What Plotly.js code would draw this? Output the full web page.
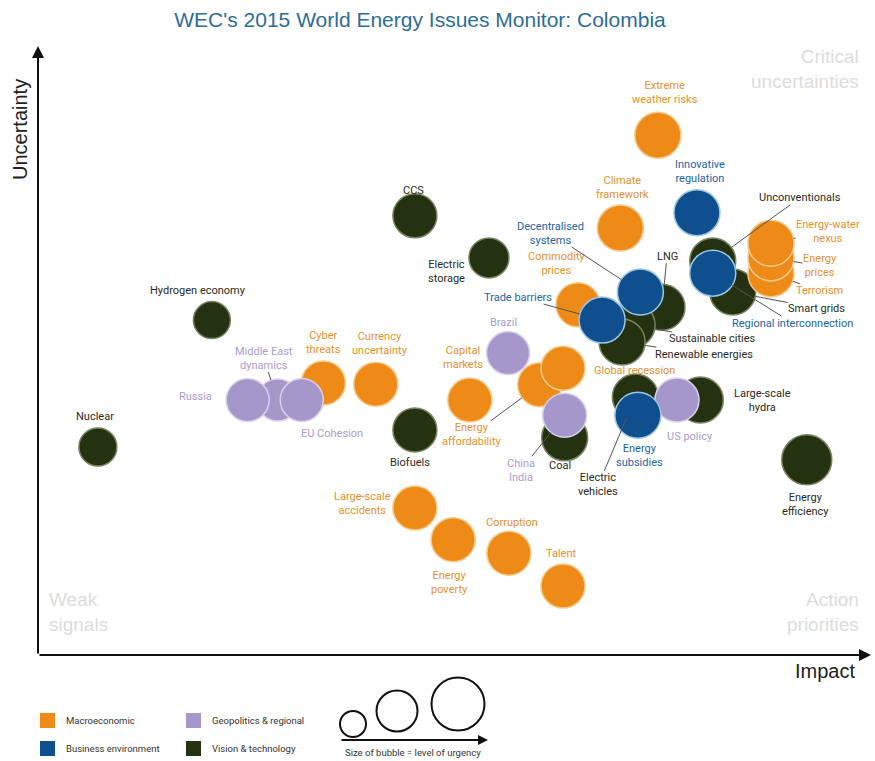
<!DOCTYPE html>
<html>
<head>
<meta charset="utf-8">
<script src="https://cdn.plot.ly/plotly-3.0.1.min.js"></script>
<style>html,body{margin:0;padding:0;background:#fff;}#chart{width:875px;height:761px;}</style>
</head>
<body>
<div id="chart"></div>
<script>
// ---- Data (impact = x, uncertainty = y, urgency = bubble size) ----
const macroNames = ["Extreme<br>weather risks","Climate<br>framework","Commodity<br>prices","Terrorism","Energy<br>prices","Energy-water<br>nexus","Cyber<br>threats","Currency<br>uncertainty","Capital<br>markets","Energy<br>affordability","Global recession","Large-scale<br>accidents","Energy<br>poverty","Corruption","Talent"];
const macroImpact = [74.5,70.0,64.9,88.1,88.1,88.1,34.3,40.6,51.9,60.3,63.1,45.3,49.9,56.6,63.1];
const macroUncert = [85.2,70.0,57.4,62.5,65.1,67.5,44.6,44.4,41.8,44.3,47.0,24.1,18.9,16.7,11.3];
const macroUrgency = [4.6,4.6,4.4,4.6,4.6,4.6,4.4,4.4,4.4,4.4,4.4,4.4,4.4,4.4,4.4];

const geoNames = ["Middle East<br>dynamics","Russia","EU Cohesion","Brazil","China<br>India","US policy"];
const geoImpact = [28.8,25.2,31.7,56.5,63.3,76.8];
const geoUncert = [41.8,41.8,41.8,49.5,39.3,41.8];
const geoUrgency = [4.2,4.3,4.3,4.3,4.4,4.4];

const busNames = ["Innovative<br>regulation","Decentralised<br>systems","Trade barriers","Regional interconnection","Energy<br>subsidies"];
const busImpact = [79.2,72.4,67.8,81.1,72.1];
const busUncert = [72.5,59.5,54.9,62.6,39.3];
const busUrgency = [4.6,4.6,4.6,4.6,4.6];

const visNames = ["CCS","Electric<br>storage","Hydrogen economy","Nuclear","Biofuels","Unconventionals","Smart grids","LNG","Sustainable cities","Renewable energies","Coal","Electric<br>vehicles","Large-scale<br>hydra","Energy<br>efficiency"];
const visImpact = [45.3,54.2,20.9,7.2,45.3,81.1,83.5,75.0,71.4,70.2,63.3,71.8,79.6,92.4];
const visUncert = [72.0,65.1,54.9,34.1,36.9,64.6,59.5,57.0,54.1,51.3,35.6,42.3,41.8,32.0];
const visUrgency = [4.4,4.0,3.7,3.8,4.4,4.6,4.6,4.6,4.6,4.6,4.6,4.6,4.6,5.0];

const categoryNames = ["Macroeconomic","Business environment","Geopolitics & regional","Vision & technology"];

// ---- Label placement (pixel offsets from bubble centre; lead = leader line) ----
const macroLab = [[7,-43,0],[2,-41,0],[-21,-41,0],[49,17,1],[49,8,1],[57,-12,1],[0,-40,0],[4,-41,0],[-7,-43,0],[-68,50,1],[72,2,0],[-52,-4,0],[-4,43,0],[3,-31,0],[-1,-33,0]];
const geoLab = [[-14,-42,1],[-52,-4,0],[30,33,0],[-5,-31,0],[-44,55,1],[13,36,0]];
const busLab = [[3,-41,0],[-90,-59,1],[-84,-23,1],[80,50,1],[2,40,0]];
const visLab = [[-1,-25,0],[-42,14,0],[-14,-30,0],[-3,-30,0],[-5,33,0],[87,-63,1],[84,16,1],[5,-51,1],[80,14,1],[82,12,1],[-5,28,0],[-37,88,1],[62,0,0],[-1,45,0]];

const COL = {macro:"#EE8A17", geo:"#A597CA", bus:"#0F4F8E", vis:"#243211"};
const LINE = {macro:"#F7C98A", geo:"#D9D2EC", bus:"#9CC6E6", vis:"#7A8460"};
const TXT = {macro:"#EB8F2C", geo:"#A99DD0", bus:"#2563A6", vis:"#2A2A22"};
const LABEL_FONT = "Roboto, 'Liberation Sans', sans-serif";

const L = 38, R = 5, T = 45, B = 106, W = 875, H = 761;
const PW = W - L - R, PH = H - T - B;
const px = p => (p - L) / PW;
const py = p => (H - B - p) / PH;

function trace(name, xs, ys, sizes, key) {
  return {
    type: "scatter", mode: "markers", name: name,
    x: xs, y: ys,
    marker: {size: sizes, sizemode: "diameter", sizeref: 0.1, color: COL[key], opacity: 1,
             line: {color: LINE[key], width: 1.5}},
    hoverinfo: "skip", showlegend: false
  };
}

const data = [
  trace(categoryNames[3], visImpact, visUncert, visUrgency, "vis"),
  trace(categoryNames[0], macroImpact, macroUncert, macroUrgency, "macro"),
  trace(categoryNames[2], geoImpact, geoUncert, geoUrgency, "geo"),
  trace(categoryNames[1], busImpact, busUncert, busUrgency, "bus")
];

const annotations = [];
function addLabels(names, xs, ys, sizes, lab, key) {
  names.forEach((n, i) => {
    const [dx, dy, lead] = lab[i];
    const a = {x: xs[i], y: ys[i], xref: "x", yref: "y", text: n,
               xanchor: "center", yanchor: "middle",
               font: {family: LABEL_FONT, size: 11, color: TXT[key]}, align: "center"};
    if (lead) {
      Object.assign(a, {showarrow: true, arrowhead: 0, arrowwidth: 1, arrowcolor: "#555",
        ax: dx, ay: dy, standoff: sizes[i] * 5, borderpad: 0});
    } else {
      Object.assign(a, {showarrow: false, xshift: dx, yshift: -dy});
    }
    annotations.push(a);
  });
}
addLabels(macroNames, macroImpact, macroUncert, macroUrgency, macroLab, "macro");
addLabels(geoNames, geoImpact, geoUncert, geoUrgency, geoLab, "geo");
addLabels(busNames, busImpact, busUncert, busUrgency, busLab, "bus");
addLabels(visNames, visImpact, visUncert, visUrgency, visLab, "vis");

// axes arrows
annotations.push({xref: "paper", yref: "paper", x: 0, y: py(46), ax: 0, ay: PH - 1, text: "",
  showarrow: true, arrowhead: 2, arrowsize: 1.2, arrowwidth: 2, arrowcolor: "#111"});
annotations.push({xref: "paper", yref: "paper", x: px(871), y: 0, ax: -(871 - L), ay: 0, text: "",
  showarrow: true, arrowhead: 2, arrowsize: 1.2, arrowwidth: 2, arrowcolor: "#111"});
// axis titles
const AF = {family: "Liberation Sans, Arial, sans-serif", size: 20, color: "#222"};
annotations.push({xref: "paper", yref: "paper", x: px(20), y: py(130), xanchor: "center", yanchor: "middle",
  text: "Uncertainty", textangle: -90, showarrow: false, font: AF});
annotations.push({xref: "paper", yref: "paper", x: px(825), y: py(671), xanchor: "center", yanchor: "middle",
  text: "Impact", showarrow: false, font: AF});
// quadrant labels
const QF = {family: "Liberation Sans, Arial, sans-serif", size: 19, color: "#DCDCDC"};
annotations.push({xref: "paper", yref: "paper", x: px(861), y: py(69), xanchor: "right", yanchor: "middle", align: "right",
  text: "Critical<br>uncertainties", showarrow: false, font: QF});
annotations.push({xref: "paper", yref: "paper", x: px(47), y: py(612), xanchor: "left", yanchor: "middle", align: "left",
  text: "Weak<br>signals", showarrow: false, font: QF});
annotations.push({xref: "paper", yref: "paper", x: px(861), y: py(612), xanchor: "right", yanchor: "middle", align: "right",
  text: "Action<br>priorities", showarrow: false, font: QF});

// custom legend
const shapes = [];
const legendItems = [[categoryNames[0], "macro", 40, 713], [categoryNames[2], "geo", 186, 713],
                     [categoryNames[1], "bus", 40, 741], [categoryNames[3], "vis", 186, 741]];
legendItems.forEach(([name, key, x0, y0]) => {
  shapes.push({type: "rect", xref: "paper", yref: "paper", x0: px(x0), x1: px(x0 + 15),
    y0: py(y0 + 15), y1: py(y0), fillcolor: COL[key], line: {width: 0}});
  annotations.push({xref: "paper", yref: "paper", x: px(x0 + 24), y: py(y0 + 7.5), xanchor: "left", yanchor: "middle",
    text: name, showarrow: false, font: {family: LABEL_FONT, size: 9.5, color: "#333"}});
});
[[353, 724, 13], [397, 711, 20.5], [458, 704, 26.5]].forEach(([cx, cy, r]) => {
  shapes.push({type: "circle", xref: "paper", yref: "paper", x0: px(cx - r), x1: px(cx + r),
    y0: py(cy + r), y1: py(cy - r), line: {color: "#111", width: 2}, fillcolor: "rgba(0,0,0,0)"});
});
annotations.push({xref: "paper", yref: "paper", x: px(488), y: py(740), ax: -148, ay: 0, text: "",
  showarrow: true, arrowhead: 2, arrowsize: 1, arrowwidth: 2, arrowcolor: "#111"});
annotations.push({xref: "paper", yref: "paper", x: px(413), y: py(752), xanchor: "center", yanchor: "middle",
  text: "Size of bubble = level of urgency",
  showarrow: false, font: {family: LABEL_FONT, size: 9.5, color: "#333"}});

const layout = {
  width: W, height: H,
  margin: {l: L, r: R, t: T, b: B},
  paper_bgcolor: "#fff", plot_bgcolor: "#fff",
  title: {text: "WEC's 2015 World Energy Issues Monitor: Colombia", xref: "container", yref: "container",
    x: 420 / W, y: 1 - 20 / H, xanchor: "center", yanchor: "middle",
    font: {family: "Liberation Sans, Arial, sans-serif", size: 21, color: "#2D6D9B"}},
  xaxis: {range: [0, 100], showgrid: false, zeroline: false, showticklabels: false, showline: false, fixedrange: true},
  yaxis: {range: [0, 100], showgrid: false, zeroline: false, showticklabels: false, showline: false, fixedrange: true},
  showlegend: false,
  annotations: annotations,
  shapes: shapes
};

Plotly.newPlot("chart", data, layout, {displayModeBar: false, staticPlot: true});
</script>
</body>
</html>
